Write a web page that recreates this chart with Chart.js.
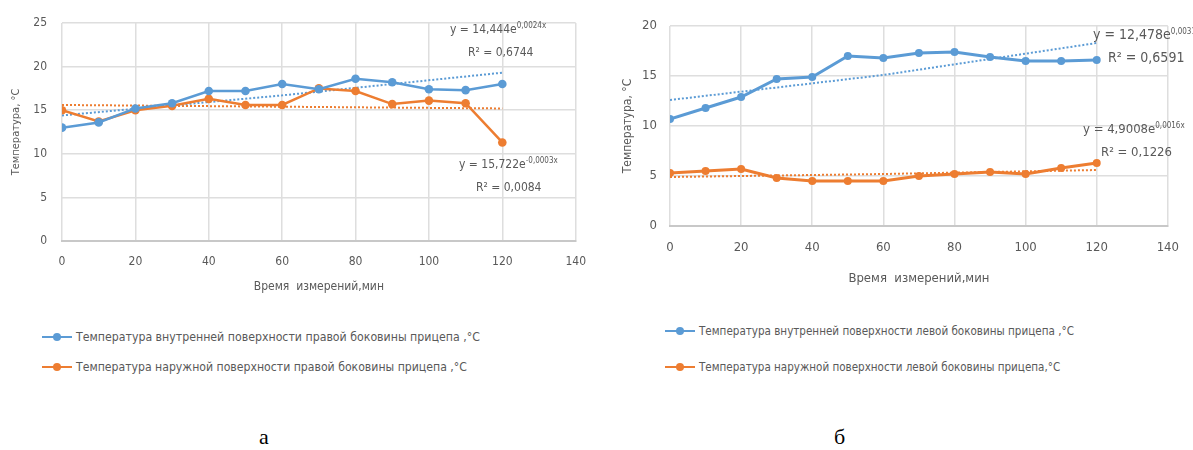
<!DOCTYPE html>
<html lang="ru">
<head>
<meta charset="utf-8">
<script src="https://cdn.jsdelivr.net/npm/chart.js@4/dist/chart.umd.min.js"></script>
<style>
  html, body { margin: 0; padding: 0; background: #fff; }
  body { width: 1193px; height: 450px; position: relative; overflow: hidden;
         font-family: "Liberation Sans Narrow", "DejaVu Sans Condensed", "Liberation Sans", sans-serif; color: #595959; }
  .box { position: absolute; top: 0; height: 300px; }
  #box-a { left: 0; width: 600px; }
  #box-b { left: 600px; width: 593px; }
  .eq { position: absolute; white-space: nowrap; font-size: 12px; line-height: 14px; color: #595959; }
  .eq sup { font-size: 8px; vertical-align: 5px; line-height: 0; }
  .leg { position: absolute; white-space: nowrap; font-size: 12px; height: 16px; line-height: 16px; }
  .leg i { position: absolute; left: 0; top: 7px; width: 30px; height: 2px; }
  .leg i::after { content: ""; position: absolute; left: 11px; top: -3px; width: 8px; height: 8px; border-radius: 50%; background: inherit; }
  .leg span { position: absolute; left: 34px; top: 0; transform-origin: 0 50%; }
  .cap { position: absolute; top: 424px; font-family: "Liberation Serif", "DejaVu Serif", serif; font-size: 22px; color: #000; }
</style>
</head>
<body>
<div class="box" id="box-a"><canvas id="chart-a"></canvas></div>
<div class="box" id="box-b"><canvas id="chart-b"></canvas></div>

<!-- подписи линий тренда -->
<div class="eq" style="left:450px; top:22px;">y = 14,444e<sup>0,0024x</sup></div>
<div class="eq" style="left:468px; top:45px;">R² = 0,6744</div>
<div class="eq" style="left:459px; top:157px;">y = 15,722e<sup>-0,0003x</sup></div>
<div class="eq" style="left:476px; top:180px;">R² = 0,0084</div>
<div class="eq" style="left:1093px; top:27px; font-size:14px;">y = 12,478e<sup>0,0031x</sup></div>
<div class="eq" style="left:1108px; top:50px; font-size:14px;">R² = 0,6591</div>
<div class="eq" style="left:1083px; top:122px; font-size:13px;">y = 4,9008e<sup>0,0016x</sup></div>
<div class="eq" style="left:1101px; top:145px; font-size:13px;">R² = 0,1226</div>

<!-- легенды -->
<div class="leg" style="left:42px; top:329px;"><i style="background:#5B9BD5"></i><span data-w="404">Температура внутренней поверхности правой боковины прицепа  ,°C</span></div>
<div class="leg" style="left:42px; top:359px;"><i style="background:#ED7D31"></i><span data-w="391">Температура наружной поверхности правой боковины прицепа ,°C</span></div>
<div class="leg" style="left:665px; top:323px;"><i style="background:#5B9BD5"></i><span data-w="375">Температура  внутренней поверхности левой боковины прицепа  ,°C</span></div>
<div class="leg" style="left:665px; top:359px;"><i style="background:#ED7D31"></i><span data-w="361">Температура  наружной поверхности левой боковины прицепа,°C</span></div>

<div class="cap" style="left:259px;">а</div>
<div class="cap" style="left:834px;">б</div>

<script>
// Данные: время измерений (мин) и температуры (°C).
const minutes = [0, 10, 20, 30, 40, 50, 60, 70, 80, 90, 100, 110, 120];

// а — правая боковина прицепа
const innerRightSide = [13.0, 13.6, 15.2, 15.8, 17.2, 17.2, 18.0, 17.4, 18.6, 18.2, 17.4, 17.3, 18.0];
const outerRightSide = [15.0, 13.7, 15.0, 15.5, 16.3, 15.6, 15.6, 17.5, 17.2, 15.7, 16.1, 15.8, 11.3];

// б — левая боковина прицепа
const innerLeftSide = [10.7, 11.8, 12.9, 14.7, 14.9, 17.0, 16.8, 17.3, 17.4, 16.9, 16.5, 16.5, 16.6];
const outerLeftSide = [5.3, 5.5, 5.7, 4.8, 4.5, 4.5, 4.5, 5.0, 5.2, 5.4, 5.2, 5.8, 6.3];

// Экспоненциальные линии тренда
const trendMinutes = [0, 60, 120];
const innerRightTrend = [14.4, 16.7, 19.3];
const outerRightTrend = [15.6, 15.4, 15.2];
const innerLeftTrend = [12.6, 15.1, 18.3];
const outerLeftTrend = [4.9, 5.2, 5.6];

const xTicks = [0, 20, 40, 60, 80, 100, 120, 140];
const yTicksA = [0, 5, 10, 15, 20, 25];
const yTicksB = [0, 5, 10, 15, 20];

const BLUE = '#5B9BD5', ORANGE = '#ED7D31', GREY = '#595959';
const FONT = '"Liberation Sans Narrow", "DejaVu Sans Condensed", "Liberation Sans", sans-serif';

const pts = (xs, ys) => xs.map((x, i) => ({ x, y: ys[i] }));

function serie(data, color, r, w) {
  return { data, borderColor: color, backgroundColor: color, borderWidth: w, pointRadius: r,
           pointBorderWidth: 0, pointHoverRadius: r, showLine: true, tension: 0, order: 1 };
}
function tendencia(data, color) {
  return { data, borderColor: color, borderWidth: 2, borderDash: [2, 2], pointRadius: 0,
           showLine: true, tension: 0, order: 2 };
}

// g: geometría del eje (anchos/altos forzados para calzar con el original)
function grafico(id, datasets, yTicks, yMax, g) {
  return new Chart(document.getElementById(id), {
    type: 'scatter',
    data: { datasets },
    options: {
      responsive: true, maintainAspectRatio: false, animation: false,
      layout: { padding: { top: g.top, right: g.right, left: 0, bottom: 0 } },
      plugins: { legend: { display: false }, tooltip: { enabled: false } },
      scales: {
        x: {
          type: 'linear', min: 0, max: 140,
          afterBuildTicks: s => { s.ticks = xTicks.map(v => ({ value: v })); },
          afterFit: s => { s.height = g.xh; },
          ticks: { color: GREY, font: { family: FONT, size: g.fs }, padding: g.xtp, maxRotation: 0 },
          grid: { color: '#DEDEDE', lineWidth: 1.5, drawTicks: false },
          border: { color: '#C8C8C8', width: 2 },
          title: { display: true, text: 'Время  измерений,мин', color: GREY,
                   font: { family: FONT, size: g.fs }, padding: { top: 0, bottom: g.xtb } },
        },
        y: {
          type: 'linear', min: 0, max: yMax,
          afterBuildTicks: s => { s.ticks = yTicks.map(v => ({ value: v })); },
          afterFit: s => { s.width = g.yw; },
          ticks: { color: GREY, font: { family: FONT, size: g.fs }, padding: g.ytp },
          grid: { color: '#DEDEDE', lineWidth: 1.5, drawTicks: false },
          border: { display: false },
          title: { display: true, text: 'Температура, °C', color: GREY,
                   font: { family: FONT, size: g.fs - 1 }, padding: { top: g.ytt, bottom: 0 } },
        },
      },
    },
  });
}

grafico('chart-a', [
  serie(pts(minutes, innerRightSide), BLUE, 4.3, 2.5),
  serie(pts(minutes, outerRightSide), ORANGE, 4.3, 2.5),
  tendencia(pts(trendMinutes, innerRightTrend), BLUE),
  tendencia(pts(trendMinutes, outerRightTrend), ORANGE),
], yTicksA, 25, { top: 23, right: 23, xh: 59, yw: 62, fs: 12, xtp: 14, xtb: 6, ytp: 15, ytt: 10 });

grafico('chart-b', [
  serie(pts(minutes, innerLeftSide), BLUE, 4, 3),
  serie(pts(minutes, outerLeftSide), ORANGE, 4, 3),
  tendencia(pts(trendMinutes, innerLeftTrend), BLUE),
  tendencia(pts(trendMinutes, outerLeftTrend), ORANGE),
], yTicksB, 20, { top: 26, right: 16, xh: 74, yw: 70, fs: 13, xtp: 14, xtb: 14, ytp: 13, ytt: 21 });

// Ajuste horizontal de las leyendas al ancho del original
document.querySelectorAll('.leg span').forEach(s => {
  const w = s.getBoundingClientRect().width;
  s.style.transform = `scaleX(${(+s.dataset.w / w).toFixed(3)})`;
});
</script>
</body>
</html>
